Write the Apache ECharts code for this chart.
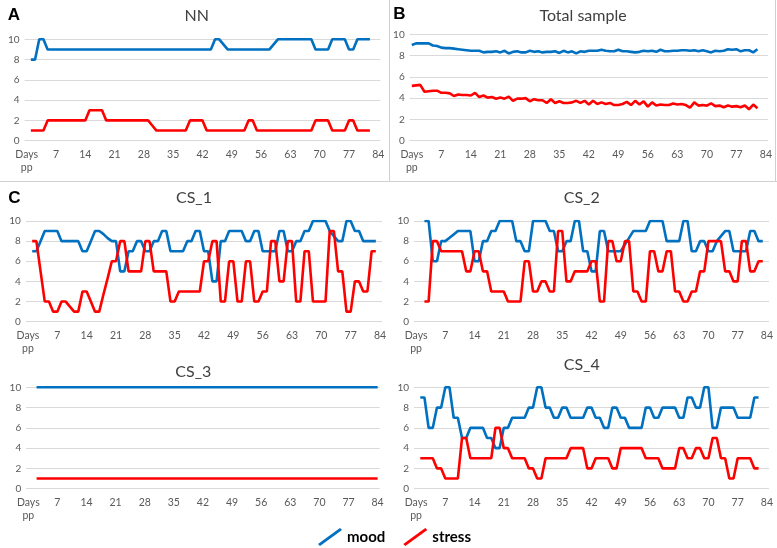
<!DOCTYPE html>
<html><head><meta charset="utf-8">
<script src="https://cdn.jsdelivr.net/npm/echarts@6/dist/echarts.min.js"></script>
<style>html,body{margin:0;padding:0;background:#fff}#c{width:777px;height:548px}</style>
</head><body><div id="c"></div>
<script>
// ---- categories (day 0 shown as "Days pp") ----
const categories = ['Days\npp'];
for (let d = 1; d <= 84; d++) categories.push(String(d));

// ---- data: first day of each series ----
const nnStart = 1, totalStart = 0, cs1Start = 1, cs2Start = 2, cs3Start = 2, cs4Start = 1;

const nnMood = [8,8,10,10,
 9,9,9,9,9,9,9,9,9,9, 9,9,9,9,9,9,9,9,9,9, 9,9,9,9,9,9,9,9,9,9, 9,9,9,9,9,9,9,9,9,9,
 10,10,9.5,
 9,9,9,9,9,9,9,9,9,9,9,
 9.5,
 10,10,10,10,10,10,10,10,10,
 9,9,9,9,
 10,10,10,10,
 9,9,
 10,10,10,10];
const nnStress = [1,1,1,1,
 2,2,2,2,2,2,2,2,2,2,
 3,3,3,3,
 2,2,2,2,2,2,2,2,2,2,2,
 1.5,
 1,1,1,1,1,1,1,1,
 2,2,2,2,
 1,1,1,1,1,1,1,1,1,1,
 2,2,
 1,1,1,1,1,1,1,1,1,1,1,1,1,1,
 2,2,2,2,
 1,1,1,1,
 2,2,
 1,1,1,1];

const totalMood = [9.0,9.15,9.15,9.15,9.15,8.95,8.9,8.75,8.7,8.7,
 8.65,8.6,8.55,8.5,8.45,8.45,8.45,8.3,8.35,8.35,
 8.4,8.3,8.45,8.2,8.35,8.4,8.3,8.3,8.45,8.35,
 8.4,8.3,8.35,8.35,8.4,8.25,8.45,8.3,8.4,8.2,
 8.4,8.35,8.45,8.45,8.45,8.55,8.45,8.4,8.4,8.55,
 8.4,8.4,8.35,8.3,8.35,8.45,8.4,8.45,8.35,8.55,
 8.4,8.4,8.45,8.45,8.5,8.5,8.45,8.5,8.4,8.5,
 8.4,8.3,8.45,8.4,8.45,8.6,8.55,8.6,8.4,8.5,
 8.5,8.3,8.6];
const totalStress = [5.15,5.2,5.25,4.6,4.65,4.7,4.7,4.5,4.5,4.45,
 4.2,4.35,4.3,4.3,4.25,4.5,4.1,4.25,4.05,4.1,
 3.95,4.05,3.95,4.15,3.75,3.95,3.95,4.0,3.7,3.9,
 3.8,3.8,3.55,3.9,3.55,3.7,3.55,3.55,3.6,3.75,
 3.55,3.75,3.4,3.75,3.45,3.6,3.45,3.55,3.35,3.35,
 3.45,3.65,3.35,3.75,3.4,3.7,3.2,3.6,3.3,3.4,
 3.35,3.35,3.5,3.4,3.45,3.35,3.1,3.6,3.3,3.35,
 3.3,3.5,3.25,3.3,3.15,3.3,3.2,3.25,3.15,3.3,
 2.95,3.4,3.05];

const cs1Mood = [7,7,8,9,9,9,9,8,8,8,
 8,8,7,7,8,9,9,8.7,8.3,8,
 8,5,5,7,7,8,8,7,7,8,
 8,9,9,7,7,7,7,8,8,9,
 9,7,7,4,4,8,8,9,9,9,
 9,8,8,9,9,7,7,7,7,9,
 9,7,7,8,8,9,9,10,10,10,
 10,9,8.5,8,8,10,10,9,9,8,
 8,8,8];
const cs1Stress = [8,8,5,2,2,1,1,2,2,1.5,
 1,1,3,3,2,1,1,2.7,4.3,6,
 6,8,8,5,5,5,5,8,8,5,
 5,5,5,2,2,3,3,3,3,3,
 3,6,6,8,8,2,2,6,6,2,
 2,6,6,2,2,3,3,8,8,4,
 4,8,8,2,2,7,7,2,2,2,
 2,9,9,5,5,1,1,4,4,3,
 3,7,7];

const cs2Mood = [10,10,6,6,8,8,8.33,8.67,9,9,
 9,9,6,6,8,8,9,9,10,10,
 10,10,8,8,7,7,10,10,10,10,
 9,9,7,7,8,8,10,10,7,7,
 5,5,9,9,7,7,7,7,7.67,8.33,
 9,9,9,9,10,10,10,10,8,8,
 8,8,10,10,7,7,8,8,7,7,
 8,8.5,9,9,7,7,7,7,9,9,
 8,8];
const cs2Stress = [2,2,8,8,7,7,7,7,7,7,
 5,5,7,7,5,5,3,3,3,3,
 2,2,2,2,6,6,3,3,4,4,
 3,3,9,9,4,4,5,5,5,5,
 6,6,2,2,8,8,6,6,8,8,
 3,3,2,2,7,7,5,5,7,7,
 3,3,2,2,3,3,5,5,8,8,
 8,8,5,5,4,4,8,8,5,5,
 6,6];

const cs3Mood = [10,10,10,10,10,10,10,10,10,10,
 10,10,10,10,10,10,10,10,10,10,
 10,10,10,10,10,10,10,10,10,10,
 10,10,10,10,10,10,10,10,10,10,
 10,10,10,10,10,10,10,10,10,10,
 10,10,10,10,10,10,10,10,10,10,
 10,10,10,10,10,10,10,10,10,10,
 10,10,10,10,10,10,10,10,10,10,
 10,10,10];
const cs3Stress = [1,1,1,1,1,1,1,1,1,1,
 1,1,1,1,1,1,1,1,1,1,
 1,1,1,1,1,1,1,1,1,1,
 1,1,1,1,1,1,1,1,1,1,
 1,1,1,1,1,1,1,1,1,1,
 1,1,1,1,1,1,1,1,1,1,
 1,1,1,1,1,1,1,1,1,1,
 1,1,1,1,1,1,1,1,1,1,
 1,1,1];

const cs4Mood = [9,9,6,6,8,8,10,10,7,7,
 5,5,6,6,6,6,5,5,4,4,
 6,6,7,7,7,7,8,8,10,10,
 8,8,7,7,8,8,7,7,7,7,
 8,8,7,7,6,6,8,8,7,7,
 6,6,6,6,8,8,7,7,8,8,
 8,8,7,7,9,9,8,8,10,10,
 6,6,8,8,8,8,7,7,7,7,
 9,9];
const cs4Stress = [3,3,3,3,2,2,1,1,1,1,
 5,5,3,3,3,3,3,3,6,6,
 4,4,3,3,3,3,2,2,1,1,
 3,3,3,3,3,3,4,4,4,4,
 2,2,3,3,3,3,2,2,4,4,
 4,4,4,4,3,3,3,3,2,2,
 2,2,4,4,3,3,4,4,3,3,
 5,5,3,3,1,1,3,3,3,3,
 2,2];

const yTicks = [0, 2, 4, 6, 8, 10];
const seriesNames = ['mood', 'stress'];
const panelTitles = ['NN', 'Total sample', 'CS_1', 'CS_2', 'CS_3', 'CS_4'];
const panelLetters = ['A', 'B', 'C'];

// ---- layout (pixels) ----
const MOOD_COLOR = '#0070C0', STRESS_COLOR = '#FF0000';
const panels = [
  {mood: nnMood, stress: nnStress, start: nnStart, grid: {left: 24.6, top: 39.3, width: 355.8, height: 101.4}, title: [196.7, 16]},
  {mood: totalMood, stress: totalStress, start: totalStart, grid: {left: 409.7, top: 34.3, width: 358.3, height: 106.4}, title: [583, 16]},
  {mood: cs1Mood, stress: cs1Stress, start: cs1Start, grid: {left: 25.9, top: 221, width: 356.2, height: 100.7}, title: [194, 198]},
  {mood: cs2Mood, stress: cs2Stress, start: cs2Start, grid: {left: 414, top: 221, width: 355, height: 100.7}, title: [581.7, 198]},
  {mood: cs3Mood, stress: cs3Stress, start: cs3Start, grid: {left: 26.2, top: 387.3, width: 353.5, height: 101.4}, title: [193.3, 372]},
  {mood: cs4Mood, stress: cs4Stress, start: cs4Start, grid: {left: 414, top: 387.3, width: 355, height: 101.4}, title: [581.7, 365]}
];

function pad(start, arr) {
  const out = [];
  for (let i = 0; i < start; i++) out.push(null);
  return out.concat(arr);
}

const FONT = 'Lato, "Open Sans", sans-serif';
const grids = [], xAxes = [], yAxes = [], series = [], graphics = [];

panels.forEach((p, i) => {
  grids.push(Object.assign({outerBoundsMode: 'none', containLabel: false}, p.grid));
  xAxes.push({
    type: 'category', gridIndex: i, data: categories, boundaryGap: true,
    axisLine: {show: false}, axisTick: {show: false}, splitLine: {show: false},
    axisLabel: {interval: 6, color: '#595959', fontSize: 10.5, fontFamily: FONT, margin: 7, lineHeight: 13.5}
  });
  yAxes.push({
    type: 'value', gridIndex: i, min: yTicks[0], max: yTicks[yTicks.length - 1], interval: yTicks[1] - yTicks[0],
    axisLine: {show: false}, axisTick: {show: false},
    splitLine: {lineStyle: {color: '#d9d9d9', width: 1}},
    axisLabel: {color: '#595959', fontSize: 10, fontFamily: FONT, margin: 5}
  });
  [[seriesNames[0], p.mood, MOOD_COLOR], [seriesNames[1], p.stress, STRESS_COLOR]].forEach(([name, vals, color]) => {
    series.push({
      name: name, type: 'line', xAxisIndex: i, yAxisIndex: i,
      data: pad(p.start, vals), showSymbol: false, symbol: 'none', smooth: false,
      lineStyle: {color: color, width: 2.6}, itemStyle: {color: color},
      emphasis: {disabled: true}, animation: false
    });
  });
  graphics.push({
    type: 'text', x: p.title[0], y: p.title[1], silent: true,
    style: {text: panelTitles[i], font: '16px ' + FONT, fill: '#404040',
            align: 'center', verticalAlign: 'middle', textAlign: 'center', textVerticalAlign: 'middle'}
  });
});

// panel letters
[[panelLetters[0], 14, 15], [panelLetters[1], 399.5, 14], [panelLetters[2], 14.5, 198]].forEach(([t, x, y]) => {
  graphics.push({type: 'text', x: x, y: y, silent: true,
    style: {text: t, font: 'bold 17px "Liberation Sans", Arial, sans-serif', fill: '#000',
            align: 'center', verticalAlign: 'middle', textAlign: 'center', textVerticalAlign: 'middle'}});
});

// panel dividers
const divider = {stroke: '#d0d0d0', lineWidth: 1};
graphics.push({type: 'line', silent: true, shape: {x1: 389.5, y1: 0, x2: 389.5, y2: 181.5}, style: divider});
graphics.push({type: 'line', silent: true, shape: {x1: 775.5, y1: 0, x2: 775.5, y2: 181.5}, style: divider});
graphics.push({type: 'line', silent: true, shape: {x1: 0, y1: 181.5, x2: 777, y2: 181.5}, style: divider});

const chart = echarts.init(document.getElementById('c'), null, {renderer: 'canvas'});
chart.setOption({
  backgroundColor: '#ffffff',
  animation: false,
  grid: grids, xAxis: xAxes, yAxis: yAxes, series: series,
  legend: {
    data: seriesNames, left: 318, top: 528, padding: 0, itemGap: 18,
    itemWidth: 24, itemHeight: 18,
    icon: 'path://M0,16 L22,0 L24,2 L2,18 Z',
    textStyle: {fontSize: 15, fontWeight: 'bold', color: '#000', fontFamily: FONT},
    selectedMode: false
  },
  graphic: graphics
});
</script>
</body></html>
